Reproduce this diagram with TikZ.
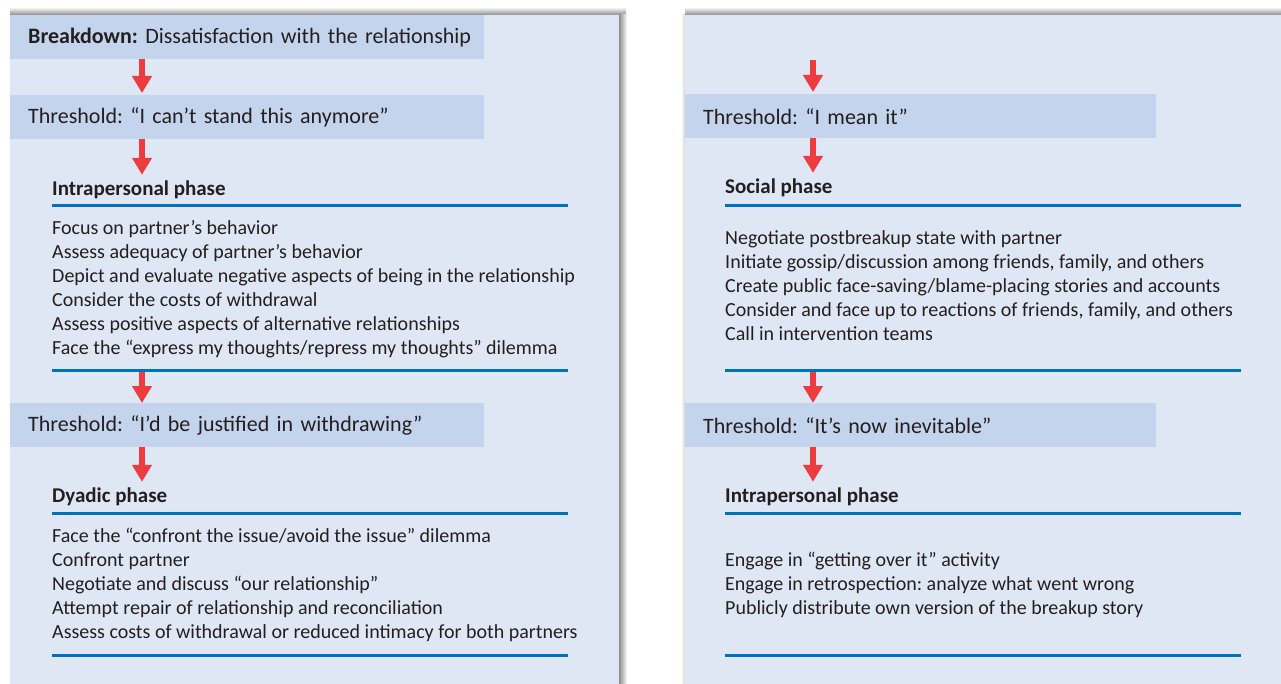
\documentclass[tikz,border=0pt]{standalone}
\usepackage{fontspec}
\setmainfont{Carlito}
\frenchspacing
\usetikzlibrary{arrows.meta,positioning,calc}
\definecolor{panelblue}{RGB}{224,231,244}
\definecolor{barblue}{RGB}{197,212,237}
\definecolor{ruleblue}{RGB}{0,114,188}
\definecolor{arrowred}{RGB}{236,60,64}
\definecolor{textgray}{RGB}{35,31,32}
\definecolor{shadowgray}{RGB}{140,140,140}

\begin{document}
\begin{tikzpicture}[x=1pt, y=-1pt,
 panel/.style={fill=panelblue, draw=none},
 bar/.style={fill=barblue, anchor=north west, text width=438pt, minimum height=44pt, inner xsep=18pt, inner ysep=0pt, align=left, font=\fontsize{22}{24}\selectfont, text=textgray},
 phase/.style={anchor=west, inner sep=0pt, font=\bfseries\fontsize{21}{24}\selectfont, text=textgray},
 items/.style={anchor=north west, inner sep=0pt, align=left, font=\fontsize{20}{24}\selectfont, text=textgray},
 rule/.style={fill=ruleblue, anchor=north west, minimum width=516pt, minimum height=3pt, inner sep=0pt},
 arrow/.style={-{Triangle[width=19pt,length=17pt]}, line width=6pt, color=arrowred}
]
\useasboundingbox (0,0) rectangle (1281,684);

% Panels with shadow
\shade[top color=white, bottom color=shadowgray] (10,7) rectangle (626,15);
\shade[left color=shadowgray, right color=white] (619,15) rectangle (627,684);
\fill[panel] (10,15) rectangle (619,684);
\shade[top color=white, bottom color=shadowgray] (685,7) rectangle (1281,15);
\shade[left color=white, right color=shadowgray!40] (681,15) rectangle (685,684);
\fill[panel] (685,15) rectangle (1281,684);

% Left column
\node[bar] (breakdown) at (10,15) {\mbox{\textbf{Breakdown:} Dissatisfaction with the relationship}};
\node[bar] (thrCant) at (10,95) {Threshold: “I can’t stand this anymore”};
\node[phase] (intraA) at (52,190) {Intrapersonal phase};
\node[rule] (ruleA1) at (52,204) {};
\node[items] (listA) at (52,220) {Focus on partner’s behavior\\
 Assess adequacy of partner’s behavior\\
 Depict and evaluate negative aspects of being in the relationship\\
 Consider the costs of withdrawal\\
 Assess positive aspects of alternative relationships\\
 Face the “express my thoughts/repress my thoughts” dilemma};
\node[rule] (ruleA2) at (52,369) {};
\node[bar] (thrJust) at (10,403) {Threshold: “I’d be justified in withdrawing”};
\node[phase] (dyadic) at (52,497) {Dyadic phase};
\node[rule] (ruleB1) at (52,512) {};
\node[items] (listB) at (52,528) {Face the “confront the issue/avoid the issue” dilemma\\
 Confront partner\\
 Negotiate and discuss “our relationship”\\
 Attempt repair of relationship and reconciliation\\
 Assess costs of withdrawal or reduced intimacy for both partners};
\node[rule] (ruleB2) at (52,654) {};

% Right column
\coordinate (topC) at (813,60);
\node[bar, text width=435pt] (thrMean) at (685,94) {Threshold: “I mean it”};
\node[phase] (social) at (725,188) {Social phase};
\node[rule] (ruleC1) at (725,204) {};
\node[items] (listC) at (725,230) {Negotiate postbreakup state with partner\\
 Initiate gossip/discussion among friends, family, and others\\
 Create public face-saving/blame-placing stories and accounts\\
 Consider and face up to reactions of friends, family, and others\\
 Call in intervention teams};
\node[rule] (ruleC2) at (725,369) {};
\node[bar, text width=435pt] (thrInev) at (685,403) {Threshold: “It’s now inevitable”};
\node[phase] (intraD) at (725,497) {Intrapersonal phase};
\node[rule] (ruleD1) at (725,512) {};
\node[items] (listD) at (725,552) {Engage in “getting over it” activity\\
 Engage in retrospection: analyze what went wrong\\
 Publicly distribute own version of the breakup story};
\node[rule] (ruleD2) at (725,654) {};

% Arrows
\coordinate (colA) at (142,0);
\coordinate (colC) at (813,0);
\draw[arrow, shorten >=2pt] (breakdown.south -| colA) -- (thrCant.north -| colA);
\draw[arrow, shorten >=6pt] (thrCant.south -| colA) -- (intraA.north -| colA);
\draw[arrow] (ruleA2.south -| colA) -- (thrJust.north -| colA);
\draw[arrow, shorten >=6pt] (thrJust.south -| colA) -- (dyadic.north -| colA);

\draw[arrow, shorten >=2pt] (topC) -- (thrMean.north -| colC);
\draw[arrow, shorten >=6pt] (thrMean.south -| colC) -- (social.north -| colC);
\draw[arrow] (ruleC2.south -| colC) -- (thrInev.north -| colC);
\draw[arrow, shorten >=6pt] (thrInev.south -| colC) -- (intraD.north -| colC);

\end{tikzpicture}
\end{document}
